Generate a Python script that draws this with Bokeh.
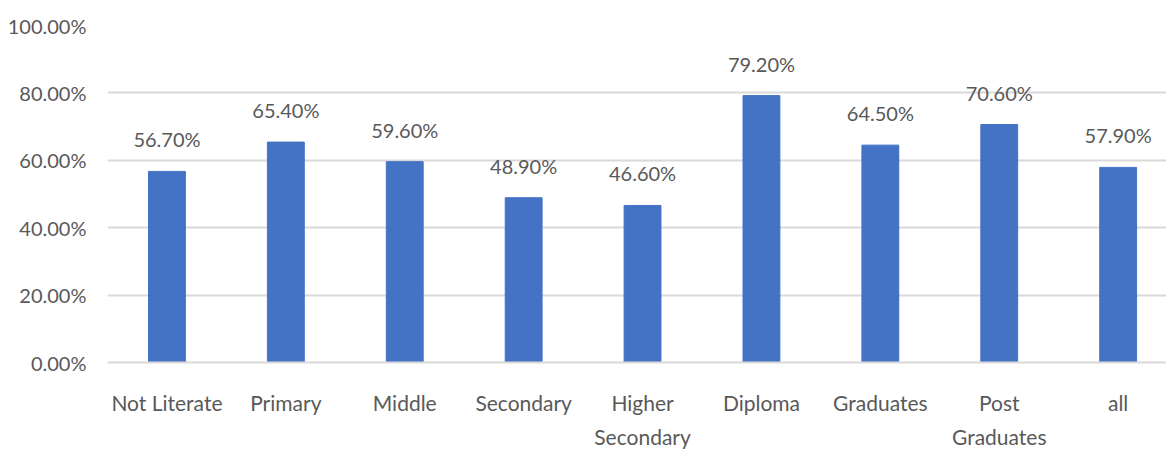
from bokeh.plotting import figure
from bokeh.models import ColumnDataSource, Range1d, FixedTicker, NumeralTickFormatter
from bokeh.core.properties import value
from bokeh.embed import file_html
from bokeh.resources import INLINE

categories = ["Not Literate", "Primary", "Middle", "Secondary", "Higher\nSecondary",
              "Diploma", "Graduates", "Post\nGraduates", "all"]
values = [0.567, 0.654, 0.596, 0.489, 0.466, 0.792, 0.645, 0.706, 0.579]
y_ticks = [0.0, 0.2, 0.4, 0.6, 0.8, 1.0]

FONT = "Lato"
GRAY = "#595959"
GRID = "#D9D9D9"
BAR = "#4472C4"

W, H = 1166, 452
LEFT = 107
xs = list(range(len(categories)))
src = ColumnDataSource(dict(x=xs, top=values, lbl=[f"{v*100:.2f}%" for v in values]))

p = figure(width=W, height=H, output_backend="svg", toolbar_location=None,
           x_range=Range1d(-0.5, -0.5 + (W - LEFT) / 118.9), y_range=Range1d(0, 1.0),
           min_border_left=LEFT, min_border_right=0, min_border_top=25, min_border_bottom=0)
p.outline_line_color = None
p.background_fill_color = "white"
p.border_fill_color = "white"

p.vbar(x="x", top="top", width=0.31, bottom=0, source=src, color=BAR)
p.text(x="x", y="top", text="lbl", source=src, text_align="center", text_baseline="middle",
       y_offset=-32, text_font=value(FONT), text_font_size="20px", text_color=GRAY)

p.xgrid.grid_line_color = None
p.ygrid.grid_line_color = GRID
p.ygrid.grid_line_width = 2
p.ygrid.ticker = FixedTicker(ticks=y_ticks)

p.yaxis.ticker = FixedTicker(ticks=y_ticks)
p.yaxis.formatter = NumeralTickFormatter(format="0.00%")
p.yaxis.axis_line_color = None
p.yaxis.major_tick_line_color = None
p.yaxis.minor_tick_line_color = None
p.yaxis.major_tick_out = 0
p.yaxis.major_tick_in = 0
p.yaxis.major_label_standoff = 21
p.yaxis.major_label_text_font = FONT
p.yaxis.major_label_text_font_size = "20px"
p.yaxis.major_label_text_color = GRAY

p.xaxis.ticker = FixedTicker(ticks=xs)
p.xaxis.major_label_overrides = {i: c for i, c in enumerate(categories)}
p.xaxis.axis_line_color = GRID
p.xaxis.axis_line_width = 2
p.xaxis.major_tick_line_color = None
p.xaxis.minor_tick_line_color = None
p.xaxis.major_tick_out = 0
p.xaxis.major_tick_in = 0
p.xaxis.major_label_standoff = 27
p.xaxis.major_label_text_font = FONT
p.xaxis.major_label_text_font_size = "21px"
p.xaxis.major_label_text_color = GRAY
p.xaxis.major_label_text_line_height = 1.38

open("out.html", "w").write(file_html(p, INLINE))
